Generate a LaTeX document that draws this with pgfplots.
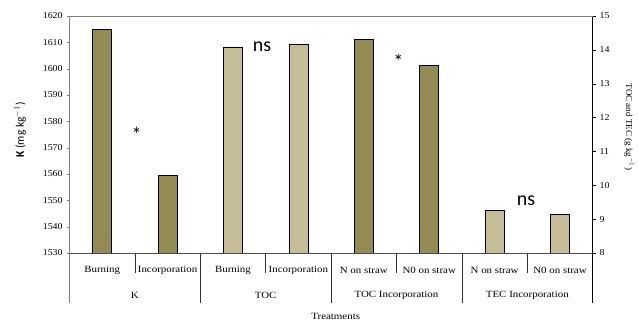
\documentclass[border=0pt]{standalone}
\usepackage{pgfplots}
\pgfplotsset{compat=1.18}
\usepackage{fontspec}
\setmainfont{Liberation Serif}
\newfontfamily\calibri{Carlito}
\definecolor{darkolive}{HTML}{948A54}
\definecolor{lightolive}{HTML}{C4BD97}
\definecolor{axgray}{HTML}{7F7F7F}

\pgfplotsset{
  common/.style={
    at={(69.5pt,69pt)}, anchor=south west,
    scale only axis, width=523.2pt, height=237pt,
    xmin=0, xmax=8,
    axis x line=none,
    tick align=outside, major tick length=3pt,
    yticklabel style={font=\fontsize{9}{10}\selectfont, xscale=1.1},
    /pgf/number format/assume math mode=true,
    /pgf/number format/1000 sep={},
    ybar, bar width=19pt, bar shift=0pt,
  }
}

\begin{document}
\begin{tikzpicture}[x=1pt,y=1pt]
\path[use as bounding box] (0,0) rectangle (638,322);

% Left axis: K (mg kg-1)
\begin{axis}[common,
  ymin=1530, ymax=1620,
  axis y line*=left,
  y axis line style={axgray,-},
  ytick={1530,1540,...,1620},
  ytick style={axgray},
]
\addplot[fill=darkolive, draw=black, line width=0.5pt] coordinates {(0.5,1614.9) (1.5,1559.6)};
\end{axis}

% Right axis: TOC and TEC (g kg-1)
\begin{axis}[common,
  ymin=8, ymax=15,
  axis y line*=right,
  y axis line style={black,-},
  ytick={8,9,...,15},
  ytick style={black},
]
\addplot[fill=lightolive, draw=black, line width=0.5pt] coordinates {(2.5,14.09) (3.5,14.18) (6.5,9.27) (7.5,9.14)};
\addplot[fill=darkolive, draw=black, line width=0.5pt] coordinates {(4.5,14.32) (5.5,13.55)};
\end{axis}

% frame and multi-level category axis
\draw[axgray, line width=0.6pt] (69.5,306) -- (592.7,306);
\draw[black!70, line width=0.6pt] (69.5,69) -- (592.7,69);
\draw[axgray, line width=0.6pt] (69.5,69) -- (69.5,19);
\draw[black, line width=0.6pt] (592.7,69) -- (592.7,19);
\foreach \k in {1,3,5,7} {
  \draw[black!80, line width=0.6pt] ({69.5+\k*65.4},69) -- ({69.5+\k*65.4},49);
}
\foreach \k in {2,4,6} {
  \draw[black!80, line width=0.6pt] ({69.5+\k*65.4},69) -- ({69.5+\k*65.4},19);
}

\begin{scope}[every node/.style={font=\fontsize{9.5}{11}\selectfont, xscale=1.15, inner sep=0pt}]
\node at ({69.5+0.5*65.4},52) {Burning};
\node at ({69.5+1.5*65.4},52) {Incorporation};
\node at ({69.5+2.5*65.4},52) {Burning};
\node at ({69.5+3.5*65.4},52) {Incorporation};
\node at ({69.5+4.5*65.4},52) {N on straw};
\node at ({69.5+5.5*65.4},52) {N0 on straw};
\node at ({69.5+6.5*65.4},52) {N on straw};
\node at ({69.5+7.5*65.4},52) {N0 on straw};
\node at ({69.5+1*65.4},27) {K};
\node at ({69.5+3*65.4},27) {TOC};
\node at ({69.5+5*65.4},27) {TOC Incorporation};
\node at ({69.5+7*65.4},27) {TEC Incorporation};
\node at (335.7,6) {Treatments};
\end{scope}

% axis titles
\node[rotate=90, font=\calibri\fontsize{11.5}{13}\selectfont] at (20,192) {\textbf{K} (mg kg$^{-1}$)};
\node[rotate=-90, font=\fontsize{9}{10}\selectfont] at (629,195) {TOC and TEC (g kg$^{-1}$)};

% significance annotations
\begin{scope}[every node/.style={font=\calibri\fontsize{20}{22}\selectfont, inner sep=0pt, anchor=base}]
\node at (136.7,180) {*};
\node at (398.3,253) {*};
\node at (262,270) {ns};
\node at (526,116.3) {ns};
\end{scope}
\end{tikzpicture}
\end{document}
